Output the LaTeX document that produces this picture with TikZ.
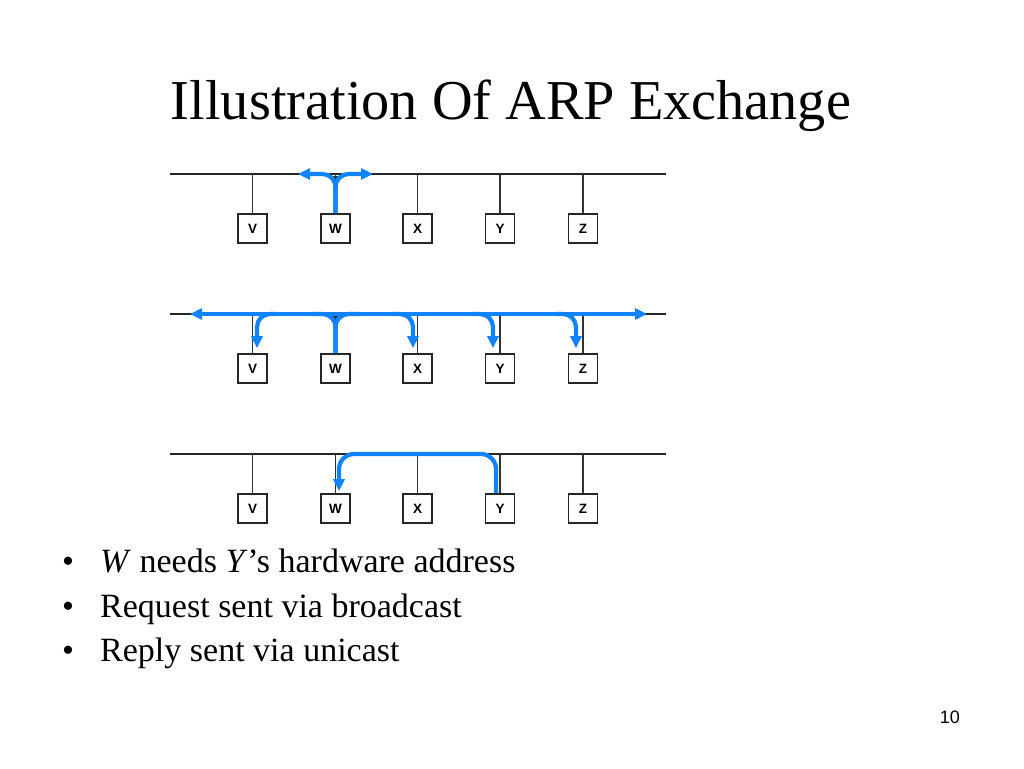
\documentclass[tikz,border=0pt]{standalone}
\usepackage{fontspec}
\setmainfont{Liberation Serif}
\setsansfont{Liberation Sans}
\usetikzlibrary{arrows.meta,calc}
\definecolor{arpblue}{RGB}{16,132,255}
\begin{document}
\begin{tikzpicture}[x=1pt,y=-1pt,
  host/.style={draw=black!85, line width=1.7pt, minimum width=29pt, minimum height=29pt, inner sep=0pt, font=\sffamily\bfseries\fontsize{13.5}{13.5}\selectfont, fill=white},
  bus/.style={line width=2.4pt, black!85},
  drop/.style={line width=1.5pt, black!80},
  msg/.style={line width=4.2pt, arpblue, rounded corners=13pt},
  tip/.style={-{Triangle[length=12pt,width=11pt]}},
  tips/.style={{Triangle[length=12pt,width=11pt]}-{Triangle[length=12pt,width=11pt]}},
  bodytext/.style={anchor=base west, inner sep=0pt, font=\fontsize{34}{34}\selectfont},
  bul/.style={anchor=base, inner sep=0pt, font=\fontsize{34}{34}\selectfont}
]
\useasboundingbox[fill=white] (0,0) rectangle (1024,768);

% title
\node[anchor=base, font=\fontsize{56.3}{56.3}\selectfont] (title) at (511,119) {Illustration Of ARP Exchange};

% three rows of the network
\foreach \r/\by in {1/174, 2/314, 3/454} {
  \coordinate (b\r L) at (170,\by);
  \coordinate (b\r R) at (666,\by);
  \draw[bus] (b\r L) -- (b\r R);
  \foreach \h/\lab/\hx in {v/V/252.5, w/W/335.5, x/X/417.5, y/Y/500, z/Z/583} {
    \node[host] (\h\r) at (\hx,\by+54.5) {\lab};
    \draw[drop] (\h\r.north) -- (\h\r.north |- b\r L);
  }
}

% small tee marks at W
\draw[drop] ($(w1.north |- b1L)+(-6,3)$) -- ($(w1.north |- b1L)+(6,3)$);
\draw[drop] ($(w2.north |- b2L)+(-6,3)$) -- ($(w2.north |- b2L)+(6,3)$);

% row 1: W starts sending
\coordinate (a1L) at (298,174);
\coordinate (a1R) at (373,174);
\draw[msg,tip] (w1.north) |- (a1L);
\draw[msg,tip] (w1.north) |- (a1R);

% row 2: broadcast
\coordinate (a2L) at (190,314);
\coordinate (a2R) at (647,314);
\draw[msg,tips] (a2L) -- (a2R);
\draw[msg] (w2.north) |- ($(w2.north |- b2L)+(-24,0)$);
\draw[msg] (w2.north) |- ($(w2.north |- b2L)+(24,0)$);
\coordinate (tv) at ($(v2.north)+(4.5,-5)$);
\coordinate (tx) at ($(x2.north)+(-4.5,-5)$);
\coordinate (ty) at ($(y2.north)+(-7,-5)$);
\coordinate (tz) at ($(z2.north)+(-7,-5)$);
\draw[msg,tip] ($(tv |- b2L)+(20,0)$) -| (tv);
\draw[msg,tip] ($(tx |- b2L)+(-20,0)$) -| (tx);
\draw[msg,tip] ($(ty |- b2L)+(-20,0)$) -| (ty);
\draw[msg,tip] ($(tz |- b2L)+(-20,0)$) -| (tz);

% row 3: unicast reply
\coordinate (ys) at ($(y3.north)+(-4,0)$);
\coordinate (turn) at ($(w3.north |- b3L)+(3.5,0)$);
\coordinate (tw) at ($(w3.north)+(3.5,-2)$);
\draw[msg,tip,rounded corners=15pt] (ys) |- (turn) -- (tw);

% bullets
\node[bul] (d1) at (68,572) {\textbullet};
\node[bodytext] (l1) at (100,572) {\textit{W} needs \textit{Y}’s hardware address};
\node[bul] (d2) at (68,617) {\textbullet};
\node[bodytext] (l2) at (100,617) {Request sent via broadcast};
\node[bul] (d3) at (68,661) {\textbullet};
\node[bodytext] (l3) at (100,661) {Reply sent via unicast};

% page number
\node[anchor=base east, inner sep=0pt, font=\sffamily\fontsize{18}{18}\selectfont] (pg) at (960,723) {10};
\end{tikzpicture}
\end{document}
